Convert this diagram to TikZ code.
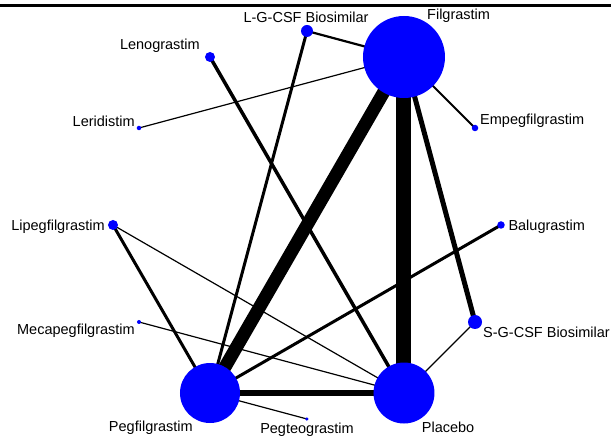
\documentclass[tikz,border=0pt]{standalone}
\usepackage{fontspec}
\setmainfont{Liberation Sans}
\usepackage{xcolor}
\usetikzlibrary{backgrounds}
\definecolor{TrtBlue}{RGB}{0,0,255}

\begin{document}
\begin{tikzpicture}[
  x=1pt, y=1pt,
  trt/.style={circle, fill=TrtBlue, inner sep=0pt, minimum size=#1pt},
  lab/.style={inner sep=0pt, font=\fontsize{14.5}{16}\selectfont},
  link/.style={line width=#1pt, color=black}
]
  \useasboundingbox (-307,-214) rectangle (304,225);
  \draw[line width=2.5pt] (-307,219.7) -- (304,219.7);

  % treatments round the circle
  \node[trt=82] (filgrastim) at (60:194) {};
  \node[trt=12] (lgcsf) at (90:194) {};
  \node[trt=10] (lenograstim) at (120:194) {};
  \node[trt=4.5] (leridistim) at (150:194) {};
  \node[trt=10] (lipegfilgrastim) at (180:194) {};
  \node[trt=4] (mecapegfilgrastim) at (210:194) {};
  \node[trt=60] (pegfilgrastim) at (240:194) {};
  \node[trt=3.5] (pegteograstim) at (270:194) {};
  \node[trt=61] (placebo) at (300:194) {};
  \node[trt=14] (sgcsf) at (330:194) {};
  \node[trt=7.5] (balugrastim) at (0:194) {};
  \node[trt=6.5] (empegfilgrastim) at (30:194) {};

  % names
  \node[lab, anchor=base west] (filgrastim-lab) at ([shift={(23,37.5)}]filgrastim.center) {Filgrastim};
  \node[lab, anchor=base] (lgcsf-lab) at ([shift={(-1,8.5)}]lgcsf.center) {L-G-CSF Biosimilar};
  \node[lab, anchor=base east] (lenograstim-lab) at ([shift={(-10,7)}]lenograstim.center) {Lenograstim};
  \node[lab, anchor=base east] (leridistim-lab) at ([shift={(-4,1.3)}]leridistim.center) {Leridistim};
  \node[lab, anchor=base east] (lipegfilgrastim-lab) at ([shift={(-8,-5.7)}]lipegfilgrastim.center) {Lipegfilgrastim};
  \node[lab, anchor=base east] (mecapegfilgrastim-lab) at ([shift={(-4,-13)}]mecapegfilgrastim.center) {Mecapegfilgrastim};
  \node[lab, anchor=base east] (pegfilgrastim-lab) at ([shift={(-17,-38.7)}]pegfilgrastim.center) {Pegfilgrastim};
  \node[lab, anchor=base] (pegteograstim-lab) at ([shift={(0,-14.3)}]pegteograstim.center) {Pegteograstim};
  \node[lab, anchor=base west] (placebo-lab) at ([shift={(17.7,-39.7)}]placebo.center) {Placebo};
  \node[lab, anchor=base west] (sgcsf-lab) at ([shift={(8,-15.7)}]sgcsf.center) {S-G-CSF Biosimilar};
  \node[lab, anchor=base west] (balugrastim-lab) at ([shift={(7.3,-5.7)}]balugrastim.center) {Balugrastim};
  \node[lab, anchor=base west] (empegfilgrastim-lab) at ([shift={(5,3)}]empegfilgrastim.center) {Empegfilgrastim};

  % comparisons, width by number of studies
  \begin{scope}[on background layer]
    \draw[link=15] (filgrastim.center) -- (placebo.center);
    \draw[link=13] (filgrastim.center) -- (pegfilgrastim.center);
    \draw[link=5] (filgrastim.center) -- (sgcsf.center);
    \draw[link=2.2] (filgrastim.center) -- (lgcsf.center);
    \draw[link=1.8] (filgrastim.center) -- (empegfilgrastim.center);
    \draw[link=1.2] (filgrastim.center) -- (leridistim.center);
    \draw[link=6] (pegfilgrastim.center) -- (placebo.center);
    \draw[link=3] (pegfilgrastim.center) -- (lgcsf.center);
    \draw[link=3] (pegfilgrastim.center) -- (lipegfilgrastim.center);
    \draw[link=3] (pegfilgrastim.center) -- (balugrastim.center);
    \draw[link=1.2] (pegfilgrastim.center) -- (pegteograstim.center);
    \draw[link=3.5] (placebo.center) -- (lenograstim.center);
    \draw[link=1.2] (placebo.center) -- (lipegfilgrastim.center);
    \draw[link=1.2] (placebo.center) -- (mecapegfilgrastim.center);
    \draw[link=1.2] (placebo.center) -- (sgcsf.center);
  \end{scope}
\end{tikzpicture}
\end{document}
